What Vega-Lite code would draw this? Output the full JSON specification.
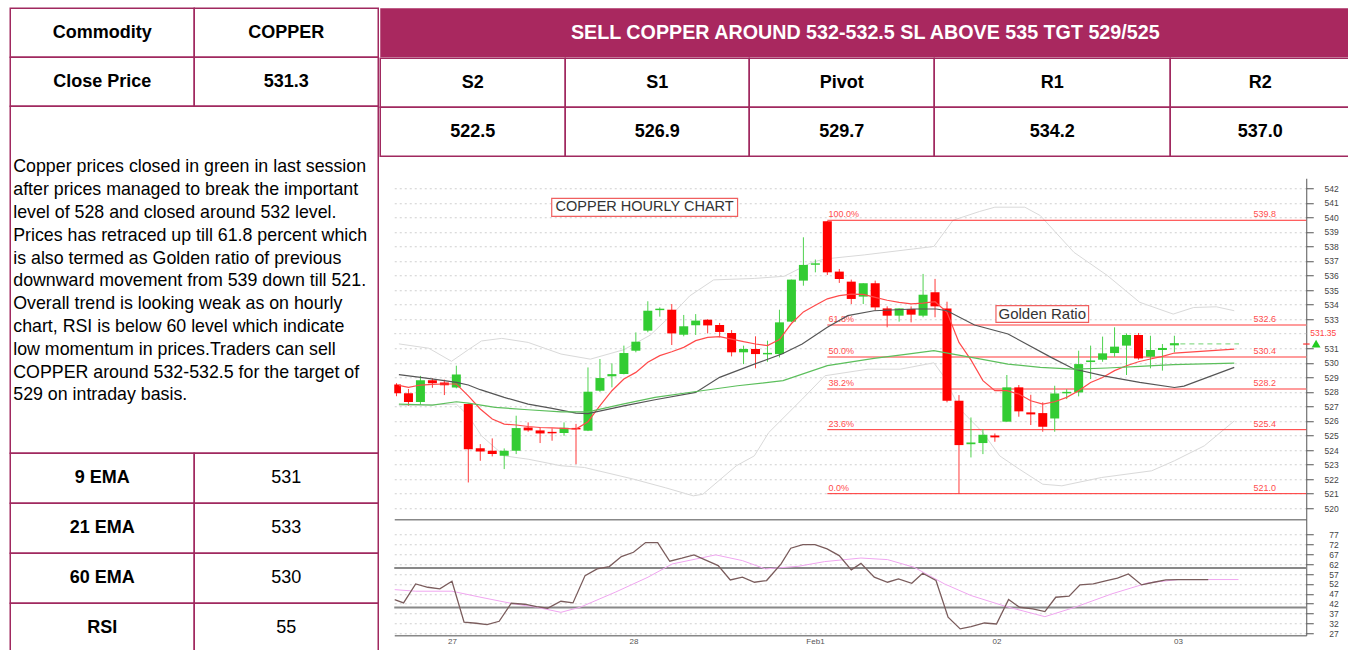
{
  "$schema": "https://vega.github.io/schema/vega-lite/v6.json",
  "padding": {"left": 9.25, "top": 7.25, "right": 0, "bottom": 0},
  "background": "white",
  "config": {
    "view": {"stroke": null},
    "font": "Liberation Sans",
    "text": {"font": "Liberation Sans"},
    "axis": {"labelFont": "Liberation Sans"}
  },
  "datasets": {
    "infoTop": [
      {"r": 1, "col": "k", "t": "Commodity"}, {"r": 1, "col": "v", "t": "COPPER"},
      {"r": 2, "col": "k", "t": "Close Price"}, {"r": 2, "col": "v", "t": "531.3"}
    ],
    "infoBottom": [
      {"r": 1, "col": "k", "t": "9 EMA"}, {"r": 1, "col": "v", "t": "531"},
      {"r": 2, "col": "k", "t": "21 EMA"}, {"r": 2, "col": "v", "t": "533"},
      {"r": 3, "col": "k", "t": "60 EMA"}, {"r": 3, "col": "v", "t": "530"},
      {"r": 4, "col": "k", "t": "RSI"}, {"r": 4, "col": "v", "t": "55"}
    ],
    "note": [
      {"n": 1, "t": "Copper prices closed in green in last session"},
      {"n": 2, "t": "after prices managed to break the important"},
      {"n": 3, "t": "level of 528 and closed around 532 level."},
      {"n": 4, "t": "Prices has retraced up till 61.8 percent which"},
      {"n": 5, "t": "is also termed as Golden ratio of previous"},
      {"n": 6, "t": "downward movement from 539 down till 521."},
      {"n": 7, "t": "Overall trend is looking weak as on hourly"},
      {"n": 8, "t": "chart, RSI is below 60 level which indicate"},
      {"n": 9, "t": "low momentum in prices.Traders can sell"},
      {"n": 10, "t": "COPPER around 532-532.5 for the target of"},
      {"n": 11, "t": "529 on intraday basis."}
    ],
    "levels": [
      {"c": "S2", "r": "h", "t": "S2"}, {"c": "S2", "r": "v", "t": "522.5"},
      {"c": "S1", "r": "h", "t": "S1"}, {"c": "S1", "r": "v", "t": "526.9"},
      {"c": "Pivot", "r": "h", "t": "Pivot"}, {"c": "Pivot", "r": "v", "t": "529.7"},
      {"c": "R1", "r": "h", "t": "R1"}, {"c": "R1", "r": "v", "t": "534.2"},
      {"c": "R2", "r": "h", "t": "R2"}, {"c": "R2", "r": "v", "t": "537.0"}
    ],
    "candles": [
      {"i":1,"o":528.5,"h":528.6,"l":527.7,"c":527.9},
      {"i":2,"o":527.9,"h":528.2,"l":527.05,"c":527.3},
      {"i":3,"o":527.3,"h":529.1,"l":527.1,"c":528.8},
      {"i":4,"o":528.8,"h":528.93,"l":528.28,"c":528.6},
      {"i":5,"o":528.65,"h":528.84,"l":527.78,"c":528.45},
      {"i":6,"o":528.3,"h":529.8,"l":528.24,"c":529.2},
      {"i":7,"o":527.16,"h":527.2,"l":521.77,"c":524.06},
      {"i":8,"o":524.13,"h":524.41,"l":523.26,"c":523.9},
      {"i":9,"o":523.95,"h":524.8,"l":523.56,"c":523.72},
      {"i":10,"o":523.6,"h":524.11,"l":522.69,"c":523.95},
      {"i":11,"o":523.95,"h":526.36,"l":523.72,"c":525.51},
      {"i":12,"o":525.55,"h":525.9,"l":525.26,"c":525.35},
      {"i":13,"o":525.35,"h":525.55,"l":524.48,"c":525.14},
      {"i":14,"o":525.25,"h":525.49,"l":524.64,"c":525.15},
      {"i":15,"o":525.17,"h":525.9,"l":524.98,"c":525.53},
      {"i":16,"o":525.52,"h":525.8,"l":523.03,"c":525.42},
      {"i":17,"o":525.33,"h":529.68,"l":525.3,"c":528.01},
      {"i":18,"o":528.08,"h":530.26,"l":528.0,"c":528.95},
      {"i":19,"o":529.07,"h":529.96,"l":528.31,"c":529.22},
      {"i":20,"o":529.23,"h":531.18,"l":529.2,"c":530.67},
      {"i":21,"o":530.83,"h":532.09,"l":530.72,"c":531.45},
      {"i":22,"o":532.21,"h":534.23,"l":532.1,"c":533.58},
      {"i":23,"o":533.62,"h":533.81,"l":533.17,"c":533.72},
      {"i":24,"o":533.65,"h":534.04,"l":531.22,"c":532.02},
      {"i":25,"o":531.93,"h":533.29,"l":531.82,"c":532.51},
      {"i":26,"o":532.58,"h":533.35,"l":531.91,"c":532.9},
      {"i":27,"o":532.96,"h":533.0,"l":532.02,"c":532.57},
      {"i":28,"o":532.6,"h":532.74,"l":531.75,"c":532.12},
      {"i":29,"o":532.05,"h":532.25,"l":530.44,"c":530.72},
      {"i":30,"o":530.72,"h":531.18,"l":529.91,"c":530.95},
      {"i":31,"o":530.95,"h":531.82,"l":529.62,"c":530.6},
      {"i":32,"o":530.58,"h":531.52,"l":530.07,"c":530.68},
      {"i":33,"o":530.6,"h":533.65,"l":530.37,"c":532.78},
      {"i":34,"o":532.83,"h":535.72,"l":532.8,"c":535.72},
      {"i":35,"o":535.65,"h":538.63,"l":535.3,"c":536.73},
      {"i":36,"o":536.74,"h":537.1,"l":536.22,"c":536.84},
      {"i":37,"o":539.73,"h":539.75,"l":536.04,"c":536.22},
      {"i":38,"o":536.27,"h":536.45,"l":535.49,"c":535.76},
      {"i":39,"o":535.58,"h":535.72,"l":534.04,"c":534.39},
      {"i":40,"o":534.55,"h":535.47,"l":534.04,"c":535.47},
      {"i":41,"o":535.47,"h":535.65,"l":533.58,"c":533.81},
      {"i":42,"o":533.74,"h":533.88,"l":532.44,"c":533.24},
      {"i":43,"o":533.24,"h":533.74,"l":532.83,"c":533.74},
      {"i":44,"o":533.7,"h":533.88,"l":532.78,"c":533.31},
      {"i":45,"o":533.24,"h":536.11,"l":533.13,"c":534.68},
      {"i":46,"o":534.85,"h":535.77,"l":533.13,"c":533.88},
      {"i":47,"o":533.74,"h":534.2,"l":527.28,"c":527.39},
      {"i":48,"o":527.39,"h":527.78,"l":520.97,"c":524.34},
      {"i":49,"o":524.4,"h":526.24,"l":523.49,"c":524.52},
      {"i":50,"o":524.48,"h":525.44,"l":523.72,"c":525.05},
      {"i":51,"o":525.0,"h":525.14,"l":524.57,"c":524.87},
      {"i":52,"o":525.95,"h":529.16,"l":525.95,"c":528.31},
      {"i":53,"o":528.31,"h":528.47,"l":526.29,"c":526.66},
      {"i":54,"o":526.59,"h":527.8,"l":525.72,"c":526.45},
      {"i":55,"o":526.54,"h":527.28,"l":525.26,"c":525.6},
      {"i":56,"o":526.17,"h":528.42,"l":525.26,"c":527.89},
      {"i":57,"o":527.9,"h":528.19,"l":527.5,"c":528.0},
      {"i":58,"o":527.96,"h":530.83,"l":527.69,"c":529.91},
      {"i":59,"o":530.05,"h":531.18,"l":528.88,"c":530.16},
      {"i":60,"o":530.21,"h":531.8,"l":530.07,"c":530.65},
      {"i":61,"o":530.67,"h":532.44,"l":530.42,"c":531.11},
      {"i":62,"o":531.18,"h":532.02,"l":529.16,"c":531.91},
      {"i":63,"o":531.91,"h":532.05,"l":530.21,"c":530.3},
      {"i":64,"o":530.42,"h":531.86,"l":529.62,"c":530.88},
      {"i":65,"o":530.88,"h":531.29,"l":529.46,"c":531.02},
      {"i":66,"o":531.2,"h":531.86,"l":530.72,"c":531.35}
    ],
    "ma": [
      {"s":"fast","i":1.2,"v":528.45},{"s":"fast","i":2,"v":528.31},{"s":"fast","i":3,"v":528.47},{"s":"fast","i":4,"v":528.52},{"s":"fast","i":5,"v":528.54},{"s":"fast","i":6,"v":528.54},{"s":"fast","i":7,"v":527.73},{"s":"fast","i":8,"v":526.82},{"s":"fast","i":9,"v":526.13},{"s":"fast","i":10,"v":525.78},{"s":"fast","i":11,"v":525.72},{"s":"fast","i":12,"v":525.62},{"s":"fast","i":13,"v":525.55},{"s":"fast","i":14,"v":525.52},{"s":"fast","i":15,"v":525.49},{"s":"fast","i":16,"v":525.44},{"s":"fast","i":17,"v":525.95},{"s":"fast","i":18,"v":527.05},{"s":"fast","i":19,"v":528.08},{"s":"fast","i":20,"v":528.88},{"s":"fast","i":21,"v":529.34},{"s":"fast","i":22,"v":530.03},{"s":"fast","i":23,"v":530.49},{"s":"fast","i":24,"v":530.76},{"s":"fast","i":25,"v":531.06},{"s":"fast","i":26,"v":531.52},{"s":"fast","i":27,"v":531.75},{"s":"fast","i":28,"v":531.8},{"s":"fast","i":29,"v":531.63},{"s":"fast","i":30,"v":531.45},{"s":"fast","i":31,"v":531.29},{"s":"fast","i":32,"v":531.18},{"s":"fast","i":33,"v":531.6},{"s":"fast","i":34,"v":532.7},{"s":"fast","i":35,"v":533.5},{"s":"fast","i":36,"v":533.95},{"s":"fast","i":37,"v":534.4},{"s":"fast","i":38,"v":534.62},{"s":"fast","i":39,"v":534.72},{"s":"fast","i":40,"v":534.7},{"s":"fast","i":41,"v":534.5},{"s":"fast","i":42,"v":534.3},{"s":"fast","i":43,"v":534.15},{"s":"fast","i":44,"v":534.05},{"s":"fast","i":45,"v":534.1},{"s":"fast","i":46,"v":534.2},{"s":"fast","i":47,"v":533.47},{"s":"fast","i":48,"v":531.4},{"s":"fast","i":49,"v":530.2},{"s":"fast","i":50,"v":528.77},{"s":"fast","i":51,"v":528.08},{"s":"fast","i":52,"v":528.08},{"s":"fast","i":53,"v":527.85},{"s":"fast","i":54,"v":527.39},{"s":"fast","i":55,"v":527.16},{"s":"fast","i":56,"v":527.32},{"s":"fast","i":57,"v":527.62},{"s":"fast","i":58,"v":528.08},{"s":"fast","i":59,"v":528.65},{"s":"fast","i":60,"v":528.99},{"s":"fast","i":61,"v":529.46},{"s":"fast","i":62,"v":529.8},{"s":"fast","i":63,"v":530.07},{"s":"fast","i":64,"v":530.26},{"s":"fast","i":65,"v":530.44},{"s":"fast","i":66,"v":530.67},{"s":"fast","i":71,"v":530.94},
      {"s":"mid","i":1.2,"v":529.18},{"s":"mid","i":3,"v":528.99},{"s":"mid","i":5,"v":528.77},{"s":"mid","i":6,"v":528.65},{"s":"mid","i":7,"v":528.47},{"s":"mid","i":8,"v":528.15},{"s":"mid","i":10,"v":527.62},{"s":"mid","i":12,"v":527.16},{"s":"mid","i":14,"v":526.86},{"s":"mid","i":16,"v":526.54},{"s":"mid","i":17,"v":526.5},{"s":"mid","i":20,"v":527.04},{"s":"mid","i":22.6,"v":527.46},{"s":"mid","i":26,"v":527.96},{"s":"mid","i":28,"v":529.0},{"s":"mid","i":30.9,"v":529.91},{"s":"mid","i":33.2,"v":530.6},{"s":"mid","i":34.9,"v":531.29},{"s":"mid","i":37,"v":532.44},{"s":"mid","i":38.7,"v":533.24},{"s":"mid","i":40.9,"v":533.58},{"s":"mid","i":44.2,"v":533.7},{"s":"mid","i":46.1,"v":533.7},{"s":"mid","i":47,"v":533.58},{"s":"mid","i":49.3,"v":532.6},{"s":"mid","i":52.1,"v":531.98},{"s":"mid","i":55.7,"v":530.37},{"s":"mid","i":57.6,"v":529.57},{"s":"mid","i":60.3,"v":529.07},{"s":"mid","i":63.1,"v":528.65},{"s":"mid","i":66,"v":528.3},{"s":"mid","i":66.8,"v":528.4},{"s":"mid","i":71,"v":529.68},
      {"s":"slow","i":1.2,"v":527.16},{"s":"slow","i":4,"v":527.09},{"s":"slow","i":6,"v":527.32},{"s":"slow","i":7,"v":527.23},{"s":"slow","i":9.25,"v":526.93},{"s":"slow","i":12,"v":526.77},{"s":"slow","i":14.75,"v":526.63},{"s":"slow","i":17,"v":526.63},{"s":"slow","i":19.9,"v":527.16},{"s":"slow","i":22.6,"v":527.62},{"s":"slow","i":25.9,"v":528.01},{"s":"slow","i":29.5,"v":528.42},{"s":"slow","i":33.3,"v":528.77},{"s":"slow","i":37,"v":529.8},{"s":"slow","i":40.9,"v":530.3},{"s":"slow","i":43.7,"v":530.6},{"s":"slow","i":45.9,"v":530.83},{"s":"slow","i":47.5,"v":530.6},{"s":"slow","i":49.5,"v":530.3},{"s":"slow","i":52.1,"v":529.91},{"s":"slow","i":54.8,"v":529.68},{"s":"slow","i":57.6,"v":529.57},{"s":"slow","i":60.4,"v":529.64},{"s":"slow","i":63.1,"v":529.75},{"s":"slow","i":65.9,"v":529.87},{"s":"slow","i":71,"v":529.98}
    ],
    "bb": [
      {"s":"u","i":1.2,"v":531.3},{"s":"u","i":3.7,"v":531.0},{"s":"u","i":5.6,"v":530.1},{"s":"u","i":7,"v":530.9},{"s":"u","i":8.1,"v":531.5},{"s":"u","i":9.8,"v":531.68},{"s":"u","i":12,"v":531.4},{"s":"u","i":14.75,"v":530.6},{"s":"u","i":17.2,"v":530.25},{"s":"u","i":20,"v":530.9},{"s":"u","i":22.2,"v":531.9},{"s":"u","i":24,"v":533.3},{"s":"u","i":25.5,"v":534.6},{"s":"u","i":27.5,"v":535.7},{"s":"u","i":30.9,"v":535.8},{"s":"u","i":33.4,"v":535.95},{"s":"u","i":35.7,"v":536.9},{"s":"u","i":36.8,"v":537.14},{"s":"u","i":40.1,"v":537.42},{"s":"u","i":44.2,"v":537.83},{"s":"u","i":45.9,"v":538.0},{"s":"u","i":47.5,"v":539.8},{"s":"u","i":49.7,"v":540.4},{"s":"u","i":51,"v":540.7},{"s":"u","i":53.5,"v":540.7},{"s":"u","i":54.8,"v":540.12},{"s":"u","i":57.6,"v":537.6},{"s":"u","i":60.4,"v":536.0},{"s":"u","i":63.1,"v":534.16},{"s":"u","i":65.9,"v":533.35},{"s":"u","i":67.6,"v":533.8},{"s":"u","i":69.5,"v":533.85},{"s":"u","i":71,"v":533.58},
      {"s":"l","i":1.2,"v":527.05},{"s":"l","i":6,"v":527.16},{"s":"l","i":7,"v":526.36},{"s":"l","i":8.1,"v":524.98},{"s":"l","i":10,"v":523.6},{"s":"l","i":12,"v":523.37},{"s":"l","i":14.75,"v":522.92},{"s":"l","i":16.7,"v":522.8},{"s":"l","i":20.8,"v":522.0},{"s":"l","i":23.5,"v":521.4},{"s":"l","i":25.8,"v":520.85},{"s":"l","i":26.6,"v":520.96},{"s":"l","i":29.4,"v":522.92},{"s":"l","i":30.9,"v":523.6},{"s":"l","i":32.1,"v":525.2},{"s":"l","i":34.9,"v":527.5},{"s":"l","i":36.8,"v":529.11},{"s":"l","i":40.4,"v":529.56},{"s":"l","i":43.1,"v":529.56},{"s":"l","i":45.9,"v":530.0},{"s":"l","i":46.7,"v":529.1},{"s":"l","i":48.1,"v":526.8},{"s":"l","i":50,"v":525.2},{"s":"l","i":51.4,"v":523.6},{"s":"l","i":53.05,"v":522.68},{"s":"l","i":55,"v":521.65},{"s":"l","i":56.6,"v":521.54},{"s":"l","i":59.9,"v":522.11},{"s":"l","i":64.1,"v":522.57},{"s":"l","i":66,"v":523.26},{"s":"l","i":68.5,"v":524.29},{"s":"l","i":71,"v":526.0}
    ],
    "fib": [
      {"p":"100.0%","v":539.8},{"p":"61.8%","v":532.6},{"p":"50.0%","v":530.4},
      {"p":"38.2%","v":528.2},{"p":"23.6%","v":525.4},{"p":"0.0%","v":521.0}
    ],
    "rsiMain": [
      {"i":1.26,"v":44.06},{"i":2,"v":42.37},{"i":3,"v":52.0},{"i":4,"v":50.3},{"i":5,"v":49.46},{"i":6,"v":53.35},{"i":7,"v":32.58},{"i":8,"v":32.07},{"i":8.9,"v":31.39},{"i":9.9,"v":33.08},{"i":10.9,"v":42.2},{"i":12,"v":41.7},{"i":13,"v":40.5},{"i":13.9,"v":39.67},{"i":15,"v":43.2},{"i":16,"v":42.37},{"i":17,"v":56.2},{"i":18,"v":59.6},{"i":19,"v":60.78},{"i":20,"v":65.84},{"i":21,"v":68.04},{"i":22,"v":72.93},{"i":23,"v":72.93},{"i":24,"v":63.48},{"i":25,"v":65.0},{"i":26,"v":66.69},{"i":28,"v":61.3},{"i":29,"v":54.0},{"i":30,"v":55.4},{"i":31,"v":52.84},{"i":32,"v":53.7},{"i":33.2,"v":62.1},{"i":34,"v":70.06},{"i":35,"v":71.9},{"i":36,"v":71.9},{"i":37,"v":69.7},{"i":38,"v":66.35},{"i":39,"v":59.09},{"i":39.8,"v":62.4},{"i":40.9,"v":55.4},{"i":42,"v":52.84},{"i":42.9,"v":54.5},{"i":44,"v":52.3},{"i":44.9,"v":57.4},{"i":46,"v":53.7},{"i":47,"v":35.1},{"i":48,"v":29.2},{"i":48.9,"v":30.4},{"i":50,"v":32.2},{"i":51,"v":31.7},{"i":52,"v":44.06},{"i":52.9,"v":40.17},{"i":54,"v":39.33},{"i":55,"v":37.98},{"i":55.9,"v":45.24},{"i":57,"v":45.75},{"i":57.9,"v":51.5},{"i":59,"v":52.0},{"i":60.1,"v":53.7},{"i":61,"v":54.9},{"i":61.9,"v":57.06},{"i":63,"v":51.5},{"i":64,"v":52.84},{"i":65,"v":54.02},{"i":66,"v":54.19},{"i":68.5,"v":54.19}
    ],
    "rsiSig": [
      {"i":1.26,"v":49.1},{"i":3,"v":48.3},{"i":6,"v":48.3},{"i":8.4,"v":45.2},{"i":11.1,"v":41.9},{"i":13,"v":40.2},{"i":15,"v":37.6},{"i":16.6,"v":40.2},{"i":19.5,"v":47.8},{"i":22.2,"v":55.4},{"i":24.2,"v":62.1},{"i":27.8,"v":66.7},{"i":30,"v":63.8},{"i":31.9,"v":59.6},{"i":34.6,"v":60.9},{"i":36.8,"v":63.3},{"i":39.8,"v":65.1},{"i":42,"v":64.3},{"i":44.2,"v":60.4},{"i":46.7,"v":52.0},{"i":48.9,"v":46.1},{"i":51.7,"v":40.7},{"i":55,"v":35.4},{"i":57.5,"v":40.2},{"i":60.5,"v":46.9},{"i":63.5,"v":52.5},{"i":66,"v":54.2},{"i":71,"v":54.2}
    ]
  },
  "spacing": 0,
  "bounds": "full",
  "hconcat": [
    {
      "spacing": 0,
      "bounds": "flush",
      "vconcat": [
        {
          "width": 368, "height": 98,
          "data": {"name": "infoTop"},
          "encoding": {
            "x": {"field": "col", "type": "ordinal", "scale": {"type": "band", "domain": ["k", "v"], "paddingInner": 0, "paddingOuter": 0}, "axis": null},
            "y": {"field": "r", "type": "ordinal", "scale": {"type": "band", "domain": [1, 2], "paddingInner": 0, "paddingOuter": 0}, "axis": null}
          },
          "layer": [
            {"mark": {"type": "rect", "fill": "white", "stroke": "#a0295f", "strokeWidth": 1.5}},
            {"mark": {"type": "text", "fontSize": 18, "fontWeight": "bold", "color": "#000000"}, "encoding": {"text": {"field": "t"}}}
          ]
        },
        {
          "width": 368, "height": 347,
          "view": {"stroke": "#a0295f", "strokeWidth": 1.5},
          "data": {"name": "note"},
          "mark": {"type": "text", "align": "left", "baseline": "middle", "fontSize": 17.8, "color": "#000000"},
          "encoding": {
            "x": {"value": 3},
            "y": {"field": "n", "type": "quantitative", "scale": {"domain": [-1.68, 13.54], "reverse": true, "nice": false, "zero": false}, "axis": null},
            "text": {"field": "t"}
          }
        },
        {
          "width": 368, "height": 200,
          "data": {"name": "infoBottom"},
          "encoding": {
            "x": {"field": "col", "type": "ordinal", "scale": {"type": "band", "domain": ["k", "v"], "paddingInner": 0, "paddingOuter": 0}, "axis": null},
            "y": {"field": "r", "type": "ordinal", "scale": {"type": "band", "domain": [1, 2, 3, 4], "paddingInner": 0, "paddingOuter": 0}, "axis": null}
          },
          "layer": [
            {"mark": {"type": "rect", "fill": "white", "stroke": "#a0295f", "strokeWidth": 1.5}},
            {"transform": [{"filter": "datum.col == 'k'"}], "mark": {"type": "text", "fontSize": 18, "fontWeight": "bold", "color": "#000000"}, "encoding": {"text": {"field": "t"}}},
            {"transform": [{"filter": "datum.col == 'v'"}], "mark": {"type": "text", "fontSize": 18, "color": "#000000"}, "encoding": {"text": {"field": "t"}}}
          ]
        }
      ]
    },
    {
      "spacing": 0,
      "bounds": "full",
      "vconcat": [
        {
          "width": 970, "height": 49,
          "view": {"fill": "#a9285f", "stroke": null},
          "data": {"values": [{"t": "SELL COPPER AROUND 532-532.5 SL ABOVE 535 TGT 529/525"}]},
          "mark": {"type": "text", "fontSize": 19.7, "fontWeight": "bold", "color": "#ffffff"},
          "encoding": {"text": {"field": "t"}}
        },
        {
          "spacing": 0,
          "bounds": "flush",
          "hconcat": [
            {
              "width": 185, "height": 98, "data": {"name": "levels"}, "transform": [{"filter": "datum.c == 'S2'"}],
              "encoding": {"y": {"field": "r", "type": "ordinal", "scale": {"type": "band", "domain": ["h", "v"], "paddingInner": 0, "paddingOuter": 0}, "axis": null}},
              "layer": [
                {"mark": {"type": "rect", "fill": "white", "stroke": "#a0295f", "strokeWidth": 1.5}},
                {"mark": {"type": "text", "fontSize": 18, "fontWeight": "bold", "color": "#000000"}, "encoding": {"text": {"field": "t"}}}
              ]
            },
            {
              "width": 184, "height": 98, "data": {"name": "levels"}, "transform": [{"filter": "datum.c == 'S1'"}],
              "encoding": {"y": {"field": "r", "type": "ordinal", "scale": {"type": "band", "domain": ["h", "v"], "paddingInner": 0, "paddingOuter": 0}, "axis": null}},
              "layer": [
                {"mark": {"type": "rect", "fill": "white", "stroke": "#a0295f", "strokeWidth": 1.5}},
                {"mark": {"type": "text", "fontSize": 18, "fontWeight": "bold", "color": "#000000"}, "encoding": {"text": {"field": "t"}}}
              ]
            },
            {
              "width": 185, "height": 98, "data": {"name": "levels"}, "transform": [{"filter": "datum.c == 'Pivot'"}],
              "encoding": {"y": {"field": "r", "type": "ordinal", "scale": {"type": "band", "domain": ["h", "v"], "paddingInner": 0, "paddingOuter": 0}, "axis": null}},
              "layer": [
                {"mark": {"type": "rect", "fill": "white", "stroke": "#a0295f", "strokeWidth": 1.5}},
                {"mark": {"type": "text", "fontSize": 18, "fontWeight": "bold", "color": "#000000"}, "encoding": {"text": {"field": "t"}}}
              ]
            },
            {
              "width": 236, "height": 98, "data": {"name": "levels"}, "transform": [{"filter": "datum.c == 'R1'"}],
              "encoding": {"y": {"field": "r", "type": "ordinal", "scale": {"type": "band", "domain": ["h", "v"], "paddingInner": 0, "paddingOuter": 0}, "axis": null}},
              "layer": [
                {"mark": {"type": "rect", "fill": "white", "stroke": "#a0295f", "strokeWidth": 1.5}},
                {"mark": {"type": "text", "fontSize": 18, "fontWeight": "bold", "color": "#000000"}, "encoding": {"text": {"field": "t"}}}
              ]
            },
            {
              "width": 180, "height": 98, "data": {"name": "levels"}, "transform": [{"filter": "datum.c == 'R2'"}],
              "encoding": {"y": {"field": "r", "type": "ordinal", "scale": {"type": "band", "domain": ["h", "v"], "paddingInner": 0, "paddingOuter": 0}, "axis": null}},
              "layer": [
                {"mark": {"type": "rect", "fill": "white", "stroke": "#a0295f", "strokeWidth": 1.5}},
                {"mark": {"type": "text", "fontSize": 18, "fontWeight": "bold", "color": "#000000"}, "encoding": {"text": {"field": "t"}}}
              ]
            }
          ]
        },
        {
          "spacing": 0,
          "bounds": "flush",
          "hconcat": [
            {"width": 13.5, "height": 10, "data": {"values": [{}]}, "mark": {"type": "point", "opacity": 0}},
            {
              "spacing": 0,
              "bounds": "flush",
              "vconcat": [
                {"width": 912, "height": 20.25, "data": {"values": [{}]}, "mark": {"type": "point", "opacity": 0}},
                {
                  "width": 912, "height": 341,
                  "layer": [
                    {
                      "data": {"name": "bb"},
                      "mark": {"type": "line", "color": "#d9d9d9", "strokeWidth": 1, "clip": true},
                      "encoding": {
                        "x": {"field": "i", "type": "quantitative", "scale": {"domain": [1.23, 76.6], "nice": false, "zero": false},
                              "axis": {"orient": "bottom", "labels": false, "ticks": false, "grid": false, "domain": true, "domainColor": "#888888", "domainWidth": 1.5, "title": null}},
                        "y": {"field": "v", "type": "quantitative", "scale": {"domain": [519.24, 542.69], "nice": false, "zero": false},
                              "axis": {"orient": "right", "values": [520,521,522,523,524,525,526,527,528,529,530,531,533,534,535,536,537,538,539,540,541,542],
                                       "tickCount": 200, "labelOverlap": false, "format": "d",
                                       "grid": true, "gridColor": "#cfcfcf", "gridDash": [2, 3], "gridWidth": 1,
                                       "tickSize": 7, "tickColor": "#555555", "domainColor": "#555555",
                                       "labelFontSize": 8.5, "labelColor": "#444444", "labelAlign": "right", "labelPadding": 25, "title": null}},
                        "detail": {"field": "s"}
                      }
                    },
                    {
                      "data": {"values": [{"v": 532}]},
                      "mark": {"type": "rule", "color": "#cfcfcf", "strokeDash": [2, 3], "strokeWidth": 1},
                      "encoding": {"y": {"field": "v", "type": "quantitative"}}
                    },
                    {
                      "data": {"name": "fib"},
                      "mark": {"type": "rule", "clip": true},
                      "encoding": {
                        "x": {"datum": 37}, "x2": {"datum": 80},
                        "y": {"field": "v", "type": "quantitative"},
                        "color": {"condition": {"test": "datum.v > 526 && datum.v < 539", "value": "#ff9c9c"}, "value": "#ff3030"},
                        "strokeWidth": {"condition": {"test": "datum.v > 526 && datum.v < 539", "value": 2}, "value": 1}
                      }
                    },
                    {
                      "data": {"name": "fib"},
                      "mark": {"type": "text", "align": "left", "baseline": "middle", "dy": -6, "fontSize": 9, "color": "#ff4d4d"},
                      "encoding": {"x": {"datum": 37.1}, "y": {"field": "v", "type": "quantitative"}, "text": {"field": "p"}}
                    },
                    {
                      "data": {"name": "fib"},
                      "mark": {"type": "text", "align": "center", "baseline": "middle", "dy": -6, "fontSize": 9, "color": "#ff4d4d"},
                      "encoding": {"x": {"datum": 73.55}, "y": {"field": "v", "type": "quantitative"}, "text": {"field": "v", "type": "quantitative", "format": ".1f"}}
                    },
                    {
                      "data": {"name": "candles"},
                      "mark": {"type": "rule", "clip": true, "strokeWidth": 1},
                      "encoding": {
                        "x": {"field": "i", "type": "quantitative"},
                        "y": {"field": "l", "type": "quantitative"},
                        "y2": {"field": "h"},
                        "color": {"condition": {"test": "datum.c >= datum.o", "value": "#4fd24f"}, "value": "#ff3b3b"}
                      }
                    },
                    {
                      "data": {"name": "candles"},
                      "mark": {"type": "bar", "clip": true, "width": 9},
                      "encoding": {
                        "x": {"field": "i", "type": "quantitative"},
                        "y": {"field": "o", "type": "quantitative"},
                        "y2": {"field": "c"},
                        "color": {"condition": {"test": "datum.c >= datum.o", "value": "#33cc33"}, "value": "#ff0000"}
                      }
                    },
                    {
                      "data": {"name": "ma"},
                      "mark": {"type": "line", "strokeWidth": 1.2, "clip": true},
                      "encoding": {
                        "x": {"field": "i", "type": "quantitative"},
                        "y": {"field": "v", "type": "quantitative"},
                        "color": {"field": "s", "type": "nominal", "scale": {"domain": ["slow", "mid", "fast"], "range": ["#5cbf5c", "#555555", "#ff4a4a"]}, "legend": null}
                      }
                    },
                    {
                      "data": {"values": [{"v": 531.3}]},
                      "mark": {"type": "rule", "color": "#8fdc8f", "strokeDash": [5, 4], "strokeWidth": 1.2},
                      "encoding": {"x": {"datum": 66.5}, "x2": {"datum": 71.4}, "y": {"field": "v", "type": "quantitative"}}
                    },
                    {
                      "data": {"values": [{"t": "COPPER HOURLY CHART"}]},
                      "mark": {"type": "rect", "fill": "white", "stroke": "#f06060", "strokeWidth": 1.2},
                      "encoding": {"x": {"datum": 13.97}, "x2": {"datum": 29.5}, "y": {"datum": 541.31}, "y2": {"datum": 540.07}}
                    },
                    {
                      "data": {"values": [{"t": "COPPER HOURLY CHART"}]},
                      "mark": {"type": "text", "fontSize": 14.5, "color": "#333333"},
                      "encoding": {"x": {"datum": 21.73}, "y": {"datum": 540.69}, "text": {"field": "t"}}
                    },
                    {
                      "data": {"values": [{"t": "Golden Ratio"}]},
                      "mark": {"type": "rect", "fill": "white", "stroke": "#f06060", "strokeWidth": 1.2},
                      "encoding": {"x": {"datum": 51.09}, "x2": {"datum": 58.83}, "y": {"datum": 533.93}, "y2": {"datum": 532.78}}
                    },
                    {
                      "data": {"values": [{"t": "Golden Ratio"}]},
                      "mark": {"type": "text", "fontSize": 15, "color": "#333333"},
                      "encoding": {"x": {"datum": 54.96}, "y": {"datum": 533.35}, "text": {"field": "t"}}
                    },
                    {
                      "data": {"values": [{"v": 531.29}]},
                      "mark": {"type": "rule", "color": "#ff3030", "strokeWidth": 1.2},
                      "encoding": {"x": {"datum": 76.76}, "x2": {"datum": 77.3}, "y": {"field": "v", "type": "quantitative"}}
                    },
                    {
                      "data": {"values": [{"v": 531.31}]},
                      "mark": {"type": "point", "shape": "triangle-up", "filled": true, "color": "#22cc22", "size": 80, "opacity": 1},
                      "encoding": {"x": {"datum": 77.84}, "y": {"field": "v", "type": "quantitative"}}
                    },
                    {
                      "data": {"values": [{"v": 532.04}]},
                      "mark": {"type": "text", "fontSize": 8.5, "color": "#ff4444"},
                      "encoding": {"x": {"datum": 78.44}, "y": {"field": "v", "type": "quantitative"}, "text": {"value": "531.35"}}
                    }
                  ]
                },
                {
                  "width": 912, "height": 116,
                  "layer": [
                    {
                      "data": {"values": [{"v": 60}, {"v": 40}]},
                      "mark": {"type": "rule", "color": "#888888", "strokeWidth": 2},
                      "encoding": {
                        "y": {"field": "v", "type": "quantitative", "scale": {"domain": [25.99, 84.75], "nice": false, "zero": false},
                              "axis": {"orient": "right", "values": [27,32,37,42,47,52,57,62,67,72,77],
                                       "tickCount": 200, "labelOverlap": false, "format": "d",
                                       "grid": true, "gridColor": "#cfcfcf", "gridDash": [2, 3], "gridWidth": 1,
                                       "tickSize": 7, "tickColor": "#555555", "domainColor": "#555555",
                                       "labelFontSize": 8.5, "labelColor": "#444444", "labelAlign": "right", "labelPadding": 25, "title": null}}
                      }
                    },
                    {
                      "data": {"name": "rsiSig"},
                      "mark": {"type": "line", "color": "#f0a6f0", "strokeWidth": 1, "clip": true},
                      "encoding": {
                        "x": {"field": "i", "type": "quantitative", "scale": {"domain": [1.23, 76.6], "nice": false, "zero": false},
                              "axis": {"orient": "bottom", "values": [6, 21, 36, 51, 66], "tickCount": 200, "ticks": false, "grid": false, "domain": true, "domainColor": "#888888", "domainWidth": 1.5,
                                       "labelFontSize": 8, "labelColor": "#555555", "labelPadding": 2, "title": null, "labelOverlap": false,
                                       "labelExpr": "datum.value == 6 ? '27' : datum.value == 21 ? '28' : datum.value == 36 ? 'Feb1' : datum.value == 51 ? '02' : '03'"}},
                        "y": {"field": "v", "type": "quantitative"}
                      }
                    },
                    {
                      "data": {"name": "rsiMain"},
                      "mark": {"type": "line", "color": "#7a5c5c", "strokeWidth": 1.3, "clip": true},
                      "encoding": {
                        "x": {"field": "i", "type": "quantitative"},
                        "y": {"field": "v", "type": "quantitative"}
                      }
                    }
                  ]
                }
              ]
            }
          ]
        }
      ]
    }
  ]
}
